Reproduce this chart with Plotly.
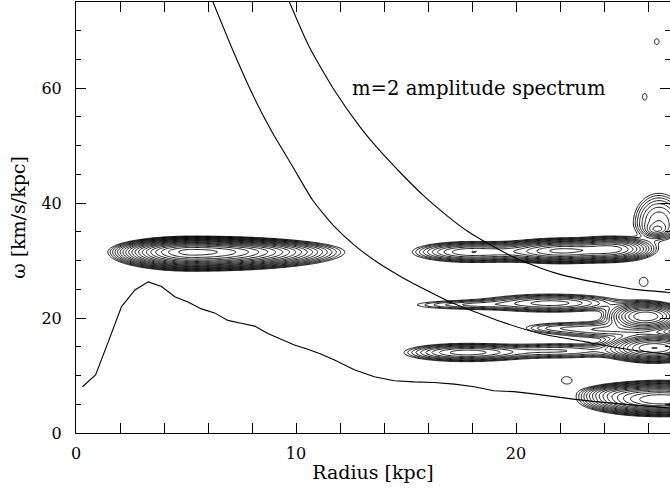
import numpy as np
import plotly.graph_objects as go

# ---- curves ----
lower_r = [0.29, 0.89, 1.47, 2.07, 2.68, 3.28, 3.89, 4.49, 5.09, 5.7, 6.3, 6.9, 7.5, 8.12,
           8.72, 9.33, 9.93, 10.5, 11.1, 11.75, 12.65, 13.56, 14.47, 15.37, 16.28, 17.2,
           18.1, 19.0, 19.9, 20.8, 21.7, 22.6, 23.5, 24.5, 25.5, 26.5, 27.2]
lower_w = [8.05, 10.1, 15.9, 22.0, 24.9, 26.3, 25.5, 23.7, 22.8, 21.6, 20.9, 19.6, 19.1, 18.6,
           17.3, 16.3, 15.3, 14.6, 13.8, 12.7, 11.0, 9.8, 9.1, 8.9, 8.8, 8.5,
           8.05, 7.36, 7.2, 6.8, 6.3, 5.9, 5.5, 5.1, 4.8, 4.5, 4.3]

mid_r = [6.13, 7.13, 8.04, 8.95, 9.86, 10.76, 11.75, 12.65, 13.7, 14.77, 16.0, 17.0, 18.2,
         19.3, 21.1, 23.1, 25.35, 27.2]
mid_w = [75.9, 66.6, 58.8, 52.1, 46.3, 40.5, 35.9, 32.7, 29.7, 27.2, 24.7, 22.8, 21.0,
         19.4, 17.3, 15.9, 14.4, 13.6]

top_r = [9.6, 10.6, 11.75, 12.96, 13.7, 14.77, 15.8, 16.9, 17.8, 18.85, 20.0, 21.2,
         22.0, 23.1, 24.2, 25.4, 26.85, 27.2]
top_w = [75.9, 67.2, 59.6, 53.0, 49.6, 45.2, 41.3, 37.7, 35.1, 32.7, 30.4, 28.6,
         27.6, 26.6, 25.8, 25.0, 24.5, 24.3]

# ---- amplitude-spectrum features (centre R, centre omega, widths, log peak) ----
blob_r     = [5.3, 18.0, 22.1, 24.4, 26.5, 26.4, 17.8, 21.6, 25.9, 24.0, 21.5, 17.7, 22.0, 26.3, 26.6, 24.6, 22.3, 25.8, 26.4, 25.85]
blob_w     = [31.5, 31.5, 31.7, 32.0, 36.5, 35.3, 22.3, 22.6, 20.3, 18.0, 18.3, 14.0, 14.3, 14.8, 5.8, 7.0, 9.2, 26.3, 68.1, 58.5]
blob_sr_lo = [1.32, 1.33, 1.2, 0.9, 0.65, 0.3, 1.8, 1.7, 0.8, 1.6, 1.0, 1.41, 1.8, 1.0, 1.4, 0.8, 0.44, 0.38, 0.2, 0.2]
blob_sr_hi = [2.37, 2.0, 1.2, 0.9, 0.65, 0.3, 1.3, 1.7, 0.8, 1.6, 1.0, 1.5, 1.8, 1.0, 1.5, 0.8, 0.44, 0.38, 0.2, 0.2]
blob_sw_lo = [1.15, 0.9, 0.95, 1.0, 1.6, 0.6, 0.55, 0.85, 1.1, 0.9, 0.6, 0.8, 0.8, 1.1, 1.1, 0.7, 1.14, 1.5, 0.95, 1.1]
blob_sw_hi = [0.95, 0.9, 0.95, 1.0, 2.9, 0.6, 0.55, 0.85, 1.1, 0.9, 0.6, 0.8, 0.8, 1.1, 1.25, 0.7, 1.14, 1.5, 0.95, 1.1]
blob_logpk = [1.85, 0.9, 1.2, 1.1, 0.7, 0.5, 0.35, 0.75, 1.3, 0.5, 0.1, 0.85, 0.5, 1.3, 1.6, 0.6, 0.06, 0.06, 0.06, 0.06]

x_ticks = [0, 10, 20]
y_ticks = [0, 20, 40, 60]

# grid
gr = np.arange(0, 27.25, 0.05)
gw = np.arange(0, 75.01, 0.2)
R, W = np.meshgrid(gr, gw)
F = np.zeros_like(R)
for r0, w0, sl, sh, wl, wh, lp in zip(blob_r, blob_w, blob_sr_lo, blob_sr_hi,
                                      blob_sw_lo, blob_sw_hi, blob_logpk):
    sr = np.where(R < r0, sl, sh)
    sw = np.where(W < w0, wl, wh)
    F += 10 ** lp * np.exp(-0.5 * ((R - r0) / sr) ** 2 - 0.5 * ((W - w0) / sw) ** 2)
Z = np.round(np.log10(F + 1e-4), 3)

fig = go.Figure()
fig.add_trace(go.Contour(
    x=gr, y=gw, z=Z, autocontour=False,
    contours=dict(start=0.0, end=2.0, size=0.1, coloring="lines"),
    colorscale=[[0, "black"], [1, "black"]], showscale=False,
    line=dict(width=0.9), hoverinfo="skip"))

fig.add_trace(go.Scatter(x=lower_r, y=lower_w, mode="lines",
                         line=dict(color="black", width=1.1), showlegend=False))
for xs, ys in [(mid_r, mid_w), (top_r, top_w)]:
    fig.add_trace(go.Scatter(x=xs, y=ys, mode="lines",
                             line=dict(color="black", width=1.1, shape="spline", smoothing=0.6),
                             showlegend=False))

# dummy for right-hand ticks
fig.add_trace(go.Scatter(x=[None], y=[None], yaxis="y2", showlegend=False))

font = "DejaVu Serif"
fig.add_annotation(x=12.45, y=60, xref="x", yref="y", text="m=2 amplitude spectrum",
                   showarrow=False, xanchor="left", yanchor="middle",
                   font=dict(family=font, size=19.6, color="black"))

axis_common = dict(ticks="inside", ticklen=10, tickcolor="black", tickwidth=1,
                   showgrid=False, zeroline=False,
                   tickfont=dict(family=font, size=16, color="black"))

fig.update_layout(
    width=670, height=489,
    margin=dict(l=76, r=0, t=2, b=56),
    paper_bgcolor="white", plot_bgcolor="white",
    showlegend=False,
    xaxis=dict(range=[0, 27.0], tickvals=x_ticks, showline=True, linecolor="black",
               linewidth=1, mirror="allticks", ticklabelstandoff=6,
               minor=dict(dtick=2, ticks="inside", ticklen=5, tickcolor="black"),
               title=dict(text="Radius [kpc]", font=dict(family=font, size=19, color="black"),
                          standoff=3),
               **axis_common),
    yaxis=dict(range=[0, 75], tickvals=y_ticks, showline=True, linecolor="black",
               linewidth=1, mirror=False, ticklabelstandoff=10,
               minor=dict(dtick=5, ticks="inside", ticklen=5, tickcolor="black"),
               title=dict(text="ω [km/s/kpc]", font=dict(family=font, size=19, color="black"),
                          standoff=10),
               **axis_common),
    yaxis2=dict(range=[0, 75], overlaying="y", side="right", tickvals=y_ticks,
                showticklabels=False, showline=False,
                minor=dict(dtick=5, ticks="inside", ticklen=5, tickcolor="black"),
                **axis_common),
)

fig.write_html("out.html")
